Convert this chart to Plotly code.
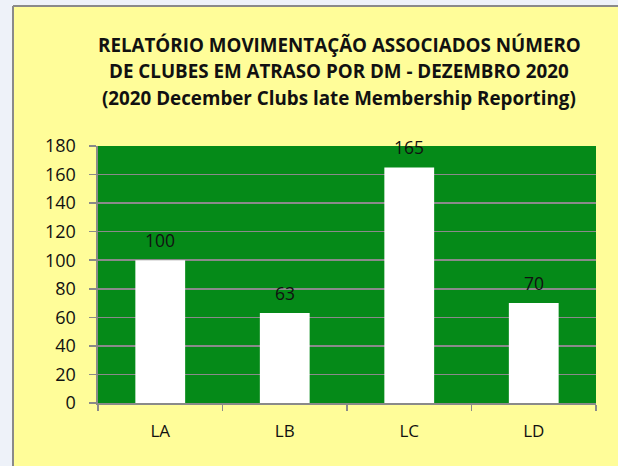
import plotly.graph_objects as go

categories = ["LA", "LB", "LC", "LD"]
values = [100, 63, 165, 70]
title_lines = [
    "RELATÓRIO MOVIMENTAÇÃO ASSOCIADOS NÚMERO",
    "DE CLUBES EM ATRASO POR DM - DEZEMBRO 2020",
    "(2020 December Clubs late Membership Reporting)",
]

W, H = 618, 466
L, R, T, B = 98, 22, 146, 63
pw, ph = W - L - R, H - T - B

def px(x):
    return (x - L) / pw

def py(y):
    return (H - B - y) / ph

FONT = "Open Sans"

fig = go.Figure(go.Bar(
    x=categories, y=values, marker_color="white", marker_line_width=0,
    width=0.4, hoverinfo="skip",
))

shapes = [
    dict(type="rect", xref="paper", yref="paper", x0=px(-5), x1=px(13), y0=py(H + 5), y1=py(-5),
         fillcolor="#EEF2F9", line=dict(width=0)),
    dict(type="rect", xref="paper", yref="paper", x0=px(13), x1=px(W + 5), y0=py(6), y1=py(-5),
         fillcolor="#EEF2F9", line=dict(width=0)),
    dict(type="line", xref="paper", yref="paper", x0=px(13), x1=px(13), y0=py(H + 5), y1=py(6),
         line=dict(color="#8a8a8a", width=2)),
    dict(type="line", xref="paper", yref="paper", x0=px(13), x1=px(W + 5), y0=py(6), y1=py(6),
         line=dict(color="#8a8a8a", width=2)),
]

annotations = []
for i, line in enumerate(title_lines):
    annotations.append(dict(
        text="<b>" + line + "</b>", xref="paper", yref="paper",
        x=px(339), y=py(45 + 26.5 * i), showarrow=False,
        xanchor="center", yanchor="middle",
        font=dict(size=18.8, color="#111", family=FONT),
    ))
for c, v in zip(categories, values):
    annotations.append(dict(
        text=str(v), x=c, y=v, xref="x", yref="y", showarrow=False,
        xanchor="center", yanchor="middle", yshift=20,
        font=dict(size=17.5, color="#111", family=FONT),
    ))

fig.update_layout(
    width=W, height=H, margin=dict(l=L, r=R, t=T, b=B, pad=0),
    paper_bgcolor="#FFFD99", plot_bgcolor="#058A18",
    showlegend=False, shapes=shapes, annotations=annotations,
    hovermode=False,
    xaxis=dict(
        showline=True, linecolor="#8a8a8a", linewidth=1.6,
        ticks="outside", tickson="boundaries", ticklen=6, tickcolor="#8a8a8a",
        tickwidth=1.6,
        tickfont=dict(size=17, color="#111", family=FONT),
        ticklabelstandoff=12,
        showgrid=False, fixedrange=True,
    ),
    yaxis=dict(
        range=[0, 180], dtick=20, showline=True, linecolor="#8a8a8a", linewidth=1.6,
        ticks="outside", ticklen=7, tickcolor="#8a8a8a", tickwidth=1.6,
        showgrid=True, gridcolor="#8a8a8a", gridwidth=1.6,
        tickfont=dict(size=18, color="#111", family=FONT),
        ticklabelstandoff=10,
        zeroline=False, fixedrange=True,
    ),
)

fig.write_html("out.html", config={"displayModeBar": False, "staticPlot": True},
               post_script="document.body.style.margin='0';")
